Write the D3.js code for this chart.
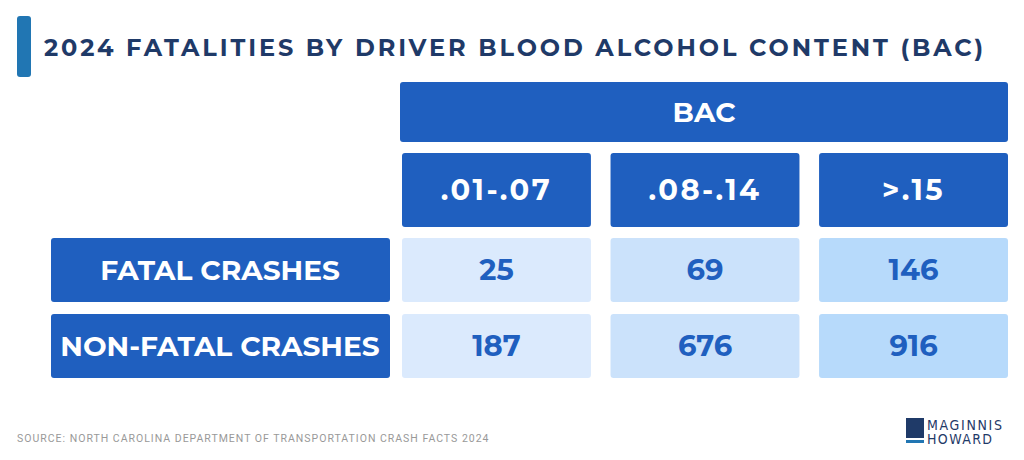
<!DOCTYPE html><html><head><meta charset="utf-8"><script src="https://cdn.jsdelivr.net/npm/d3@7"></script>
<style>body{margin:0;background:#fff}</style></head><body><svg id="c" width="1024" height="460"></svg>
<script>
const title="2024 FATALITIES BY DRIVER BLOOD ALCOHOL CONTENT (BAC)";
const groupLabel="BAC";
const columns=[".01-.07",".08-.14",">.15"];
const rows=["FATAL CRASHES","NON-FATAL CRASHES"];
const fatal=[25,69,146];
const nonFatal=[187,676,916];
const source="SOURCE: NORTH CAROLINA DEPARTMENT OF TRANSPORTATION CRASH FACTS 2024";
const values=[fatal,nonFatal];
const cellFill=["#dbeafd","#cbe2fb","#b7dafb"];
const blue="#1f5fbf";
const svg=d3.select("#c");
const f="'Montserrat','Lato','Open Sans',sans-serif";
svg.append("rect").attr("x",17).attr("y",16).attr("width",14).attr("height",61).attr("rx",3).attr("fill","#2176b3");
svg.append("text").attr("x",44).attr("y",56).text(title).attr("font-family",f).attr("font-weight",700).attr("font-size",24).attr("letter-spacing",2.9).attr("fill","#1f3a68");
const x=d3.scaleBand().domain(columns).range([402,1008]).paddingInner(0.094);
const y=d3.scaleBand().domain(rows).range([238,378]).paddingInner(0.158);
svg.append("rect").attr("x",400).attr("y",82).attr("width",608).attr("height",60).attr("rx",3).attr("fill",blue);
svg.append("text").attr("x",704).attr("y",112).attr("dy","0.35em").attr("text-anchor","middle").text(groupLabel).attr("font-family",f).attr("font-weight",700).attr("font-size",28).attr("fill","#fff");
columns.forEach(c=>{
 svg.append("rect").attr("x",x(c)).attr("y",153).attr("width",x.bandwidth()).attr("height",74).attr("rx",3).attr("fill",blue);
 svg.append("text").attr("x",x(c)+x.bandwidth()/2).attr("y",190).attr("dy","0.35em").attr("text-anchor","middle").text(c).attr("font-family",f).attr("font-weight",700).attr("font-size",29).attr("letter-spacing",2.5).attr("fill","#fff");
});
rows.forEach((r,i)=>{
 svg.append("rect").attr("x",51).attr("y",y(r)).attr("width",339).attr("height",y.bandwidth()).attr("rx",3).attr("fill",blue);
 svg.append("text").attr("x",220).attr("y",y(r)+y.bandwidth()/2).attr("dy","0.35em").attr("text-anchor","middle").text(r).attr("font-family",f).attr("font-weight",700).attr("font-size",28).attr("fill","#fff");
 columns.forEach((c,j)=>{
  svg.append("rect").attr("x",x(c)).attr("y",y(r)).attr("width",x.bandwidth()).attr("height",y.bandwidth()).attr("rx",3).attr("fill",cellFill[j]);
  svg.append("text").attr("x",x(c)+x.bandwidth()/2).attr("y",y(r)+y.bandwidth()/2).attr("dy","0.35em").attr("text-anchor","middle").text(values[i][j]).attr("font-family",f).attr("font-weight",700).attr("font-size",29).attr("fill","#1f5fbf");
 });
});
svg.append("text").attr("x",17).attr("y",442).text(source).attr("font-family","Roboto,sans-serif").attr("font-size",10.5).attr("letter-spacing",1.0).attr("fill","#999");
const lg=svg.append("g").attr("transform","translate(906,418)");
lg.append("rect").attr("x",0).attr("y",0).attr("width",18).attr("height",20).attr("fill","#1f3a68");
lg.append("rect").attr("x",0).attr("y",22).attr("width",18).attr("height",3).attr("fill","#2176b3");
lg.append("text").attr("x",21).attr("y",12).text("MAGINNIS").attr("font-family","'Liberation Sans Narrow','DejaVu Sans Condensed',serif").attr("font-size",14).attr("textLength",75).attr("fill","#1f3a68");
lg.append("text").attr("x",21).attr("y",26).text("HOWARD").attr("font-family","'Liberation Sans Narrow','DejaVu Sans Condensed',serif").attr("font-size",14).attr("textLength",65).attr("fill","#1f3a68");
</script></body></html>
